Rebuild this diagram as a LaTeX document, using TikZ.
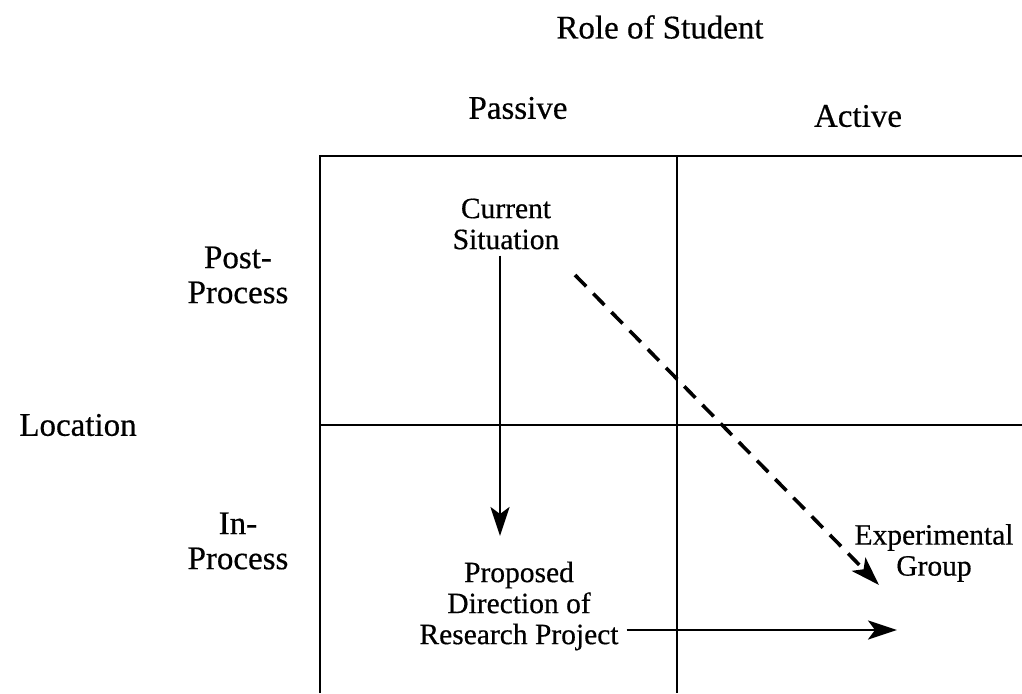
\documentclass[tikz,border=0pt]{standalone}
\usepackage{fontspec}
\setmainfont{Liberation Serif}
\newfontfamily\scanfont{Liberation Serif}[FakeBold=0.5]
\usepackage{tikz}
\usetikzlibrary{arrows.meta,positioning,calc}

\begin{document}
\begin{tikzpicture}[x=1pt, y=-1pt, >=Stealth,
  head/.style={font=\scanfont\fontsize{33}{35}\selectfont, align=center, inner sep=2pt},
  lab/.style={font=\scanfont\fontsize{29.5}{31}\selectfont, align=center, inner sep=2pt},
  grid/.style={line width=2.6pt},
  conn/.style={line width=2.8pt, -{Stealth[length=29pt,width=19pt,inset=7pt]}},
  dconn/.style={conn, line width=3.6pt, dash pattern=on 16pt off 10pt}]
\useasboundingbox (0,0) rectangle (1022,693);
% headings
\node[head] (role) at (660,27) {Role of Student};
\node[head] (passive) at (518,108) {Passive};
\node[head] (active) at (858,116) {Active};
\node[head] (location) at (78,425) {Location};
\node[head] (post) at (238,275) {Post-\\Process};
\node[head] (inproc) at (238,541) {In-\\Process};
% grid
\draw[grid] (320,693) -- (320,156) -- (1022,156);
\draw[grid] (677,156) -- (677,693);
\draw[grid] (320,425) -- (1022,425);
% cells
\node[lab] (cur) at (506,224) {Current\\Situation};
\node[lab] (prop) at (519,606) {Proposed\\Direction of\\Research Project};
\node[lab] (exp) at (934,553) {Experimental\\Group};
\coordinate (downend) at (500,536);
\coordinate (hend) at (897,630);
\coordinate (dstart) at (575,275);
\coordinate (dend) at (879,585);
\draw[conn, shorten <=4pt] (cur.south -| downend) -- (downend);
\draw[conn, shorten <=6pt] (prop.east |- hend) -- (hend);
\draw[dconn] (dstart) -- (dend);
\end{tikzpicture}
\end{document}
